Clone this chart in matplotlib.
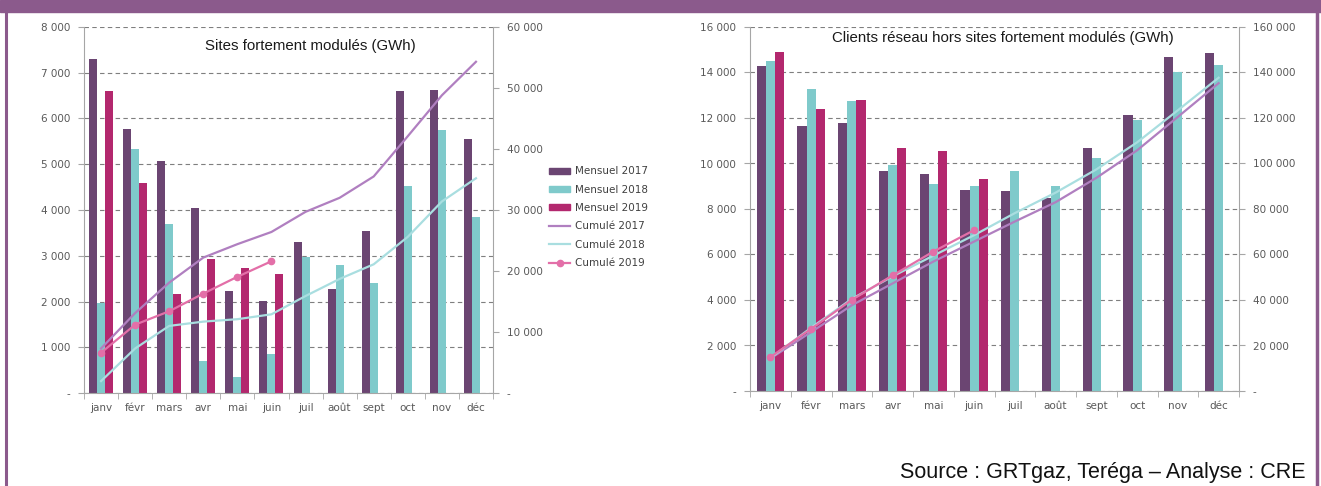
import matplotlib.pyplot as plt
import matplotlib.ticker as mticker
from matplotlib.patches import Patch, Rectangle
from matplotlib.lines import Line2D

# Mois
mois = ['janv', 'févr', 'mars', 'avr', 'mai', 'juin', 'juil', 'août', 'sept', 'oct', 'nov', 'déc']

# Sites fortement modulés (GWh)
sfm_mensuel_2017 = [7290, 5780, 5070, 4040, 2230, 2010, 3310, 2280, 3540, 6600, 6630, 5560]
sfm_mensuel_2018 = [1960, 5340, 3690, 710, 350, 850, 2980, 2790, 2410, 4520, 5750, 3840]
sfm_mensuel_2019 = [6610, 4600, 2170, 2920, 2740, 2600]
sfm_cumule_2017 = [7300, 13100, 18100, 22200, 24400, 26400, 29700, 32000, 35500, 42100, 48800, 54300]
sfm_cumule_2018 = [1950, 7300, 11000, 11700, 12100, 12900, 15900, 18700, 21100, 25600, 31400, 35200]
sfm_cumule_2019 = [6600, 11200, 13400, 16300, 19050, 21600]

# Clients réseau hors sites fortement modulés (GWh)
crh_mensuel_2017 = [14270, 11640, 11760, 9680, 9520, 8830, 8800, 8490, 10700, 12120, 14690, 14860]
crh_mensuel_2018 = [14510, 13270, 12740, 9930, 9080, 9020, 9680, 9000, 10220, 11900, 14030, 14320]
crh_mensuel_2019 = [14910, 12390, 12780, 10690, 10560, 9340]
crh_cumule_2017 = [14300, 25900, 37700, 47300, 56900, 65700, 74500, 83000, 93700, 105800, 120500, 135300]
crh_cumule_2018 = [14500, 27800, 40500, 50400, 59500, 68500, 78200, 87200, 97400, 109300, 123400, 137700]
crh_cumule_2019 = [14900, 27300, 40100, 50800, 61300, 70700]

# Couleurs
c_m17, c_m18, c_m19 = '#6B4572', '#7FCACB', '#B3286E'
c_c17, c_c18, c_c19 = '#B07FC0', '#A9DEE0', '#E36FA8'
gris = '#595959'
violet = '#8B5A8C'

plt.rcParams['font.family'] = ['DejaVu Sans']


def fmt(v, pos=None):
    if v == 0:
        return '-'
    return f'{int(round(v)):,}'.replace(',', ' ')


def graphique(ax, m17, m18, m19, c17, c18, c19, ymax, ystep, y2max, y2step, largeur, titre, titre_xy):
    x = list(range(len(mois)))
    ax.bar([i - largeur for i in x], m17, largeur, color=c_m17, zorder=2)
    ax.bar([i for i in x], m18, largeur, color=c_m18, zorder=2)
    ax.bar([i + largeur for i in range(len(m19))], m19, largeur, color=c_m19, zorder=2)

    ax.set_xlim(-0.5, 11.5)
    ax.set_ylim(0, ymax)
    ax.set_yticks(range(0, ymax + 1, ystep))
    ax.yaxis.set_major_formatter(mticker.FuncFormatter(fmt))
    ax.set_xticks(x)
    ax.set_xticklabels(mois)
    ax.set_xticks([i - 0.5 for i in range(13)], minor=True)
    ax.tick_params(axis='x', which='major', length=0, pad=7, labelsize=7.5, labelcolor=gris)
    ax.tick_params(axis='x', which='minor', length=4, color='#A6A6A6', direction='out')
    ax.tick_params(axis='y', length=4, color='#A6A6A6', labelsize=7.5, labelcolor=gris, pad=6)

    ax.grid(axis='y', linestyle=(0, (4, 3)), color='#7F7F7F', linewidth=0.8, zorder=0)
    ax.set_axisbelow(True)
    for s in ['top', 'right']:
        ax.spines[s].set_visible(False)
    for s in ['left', 'bottom']:
        ax.spines[s].set_color('#A6A6A6')

    ax2 = ax.twinx()
    ax2.plot(x, c17, color=c_c17, linewidth=1.6, zorder=3)
    ax2.plot(x, c18, color=c_c18, linewidth=1.6, zorder=3)
    ax2.plot(range(len(c19)), c19, color=c_c19, linewidth=1.6, marker='o', markersize=4.5, zorder=4)
    ax2.set_ylim(0, y2max)
    ax2.set_yticks(range(0, y2max + 1, y2step))
    ax2.yaxis.set_major_formatter(mticker.FuncFormatter(fmt))
    ax2.tick_params(axis='y', length=4, color='#A6A6A6', labelsize=7.5, labelcolor=gris, pad=6)
    for s in ['top', 'left', 'bottom']:
        ax2.spines[s].set_visible(False)
    ax2.spines['right'].set_color('#A6A6A6')

    ax.text(titre_xy[0], titre_xy[1], titre, transform=ax.figure.transFigure,
            ha='center', va='center', fontsize=10.8, family='Liberation Sans', color='#1A1A1A')
    return ax2


fig = plt.figure(figsize=(13.21, 4.86), dpi=100)
W, H = 1321, 486

ax_g = fig.add_axes([84 / W, 1 - 393 / H, 409 / W, 366 / H])
graphique(ax_g, sfm_mensuel_2017, sfm_mensuel_2018, sfm_mensuel_2019,
          sfm_cumule_2017, sfm_cumule_2018, sfm_cumule_2019,
          8000, 1000, 60000, 10000, 0.235,
          'Sites fortement modulés (GWh)', (310 / W, 1 - 46 / H))

ax_d = fig.add_axes([750 / W, 1 - 391 / H, 489 / W, 364 / H])
graphique(ax_d, crh_mensuel_2017, crh_mensuel_2018, crh_mensuel_2019,
          crh_cumule_2017, crh_cumule_2018, crh_cumule_2019,
          16000, 2000, 160000, 20000, 0.225,
          'Clients réseau hors sites fortement modulés (GWh)', (1003 / W, 1 - 38 / H))

# Légende
poignees = [
    Patch(color=c_m17, label='Mensuel 2017'),
    Patch(color=c_m18, label='Mensuel 2018'),
    Patch(color=c_m19, label='Mensuel 2019'),
    Line2D([], [], color=c_c17, linewidth=1.6, label='Cumulé 2017'),
    Line2D([], [], color=c_c18, linewidth=1.6, label='Cumulé 2018'),
    Line2D([], [], color=c_c19, linewidth=1.6, marker='o', markersize=4.5, label='Cumulé 2019'),
]
fig.legend(handles=poignees, loc='upper left', bbox_to_anchor=(540 / W, 1 - 157 / H),
           frameon=False, fontsize=7.5, labelcolor='#404040', handlelength=2.0,
           handleheight=0.5, labelspacing=0.8, handletextpad=0.5)

# Cadre et bandeau
fig.add_artist(Rectangle((0, 1 - 12 / H), 1, 12 / H, transform=fig.transFigure, color=violet, zorder=5))
fig.add_artist(Line2D([6 / W, 6 / W], [0, 1], transform=fig.transFigure, color=violet, linewidth=2.2))
fig.add_artist(Line2D([1317 / W, 1317 / W], [0, 1], transform=fig.transFigure, color=violet, linewidth=2.5))

fig.text(1305 / W, 1 - 472 / H, 'Source : GRTgaz, Teréga – Analyse : CRE', ha='right', va='center',
         fontsize=15.5, family='Liberation Sans', color='#111111')

fig.savefig('out.png', dpi=100)
